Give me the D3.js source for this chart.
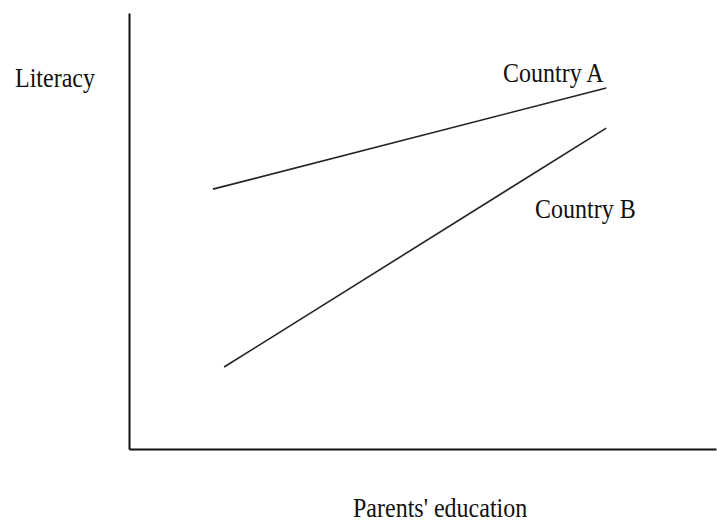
<!DOCTYPE html>
<html>
<head>
<meta charset="utf-8">
<script src="https://cdn.jsdelivr.net/npm/d3@7"></script>
<style>
  body { margin: 0; background: #fff; }
  text { font-family: "Liberation Serif", "Times New Roman", serif; font-size: 24px; fill: #111; }
  .axis path { stroke: #111; stroke-width: 2px; }
</style>
</head>
<body>
<svg width="717" height="524"></svg>
<script>
// Series endpoints (parents' education, literacy) on a 0-100 scale
var seriesNames = ['Country A', 'Country B'];
var educationA = [14.3, 81.3];
var literacyA = [59.6, 82.8];
var educationB = [16.2, 81.3];
var literacyB = [18.8, 73.6];

var svg = d3.select('svg');

var scaleX = d3.scaleLinear().domain([0, 100]).range([129, 716]);
var scaleY = d3.scaleLinear().domain([0, 100]).range([449, 13]);

// axes with no ticks, only the domain line
svg.append('g').attr('class', 'axis')
  .attr('transform', 'translate(0,' + scaleY(0) + ')')
  .call(d3.axisBottom(scaleX).tickValues([]).tickSizeOuter(0));
svg.append('g').attr('class', 'axis')
  .attr('transform', 'translate(' + scaleX(0) + ',0)')
  .call(d3.axisLeft(scaleY).tickValues([]).tickSizeOuter(0));

var series = [
  {name: seriesNames[0], pts: educationA.map(function(d, i) { return [d, literacyA[i]]; })},
  {name: seriesNames[1], pts: educationB.map(function(d, i) { return [d, literacyB[i]]; })}
];

var line = d3.line()
  .x(function(d) { return scaleX(d[0]); })
  .y(function(d) { return scaleY(d[1]); });

svg.selectAll('path.series')
  .data(series)
  .enter().append('path')
  .attr('class', 'series')
  .attr('d', function(d) { return line(d.pts); })
  .attr('fill', 'none')
  .attr('stroke', '#222')
  .attr('stroke-width', 1.6);

// labels, slightly stretched vertically like the original
function label(x, y, s) {
  svg.append('text')
    .attr('transform', 'translate(' + x + ',' + y + ') scale(1,1.15)')
    .text(s);
}
label(15, 87, 'Literacy');
label(503, 82, seriesNames[0]);
label(535, 218, seriesNames[1]);
label(353, 517, "Parents' education");
</script>
</body>
</html>
